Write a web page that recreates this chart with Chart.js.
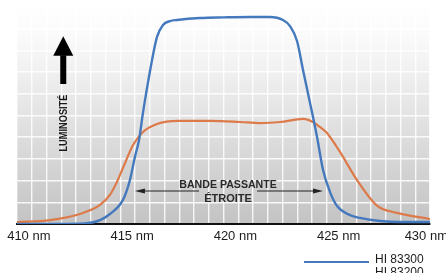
<!DOCTYPE html>
<html><head><meta charset="utf-8">
<script src="https://cdn.jsdelivr.net/npm/chart.js@4/dist/chart.umd.min.js"></script>
<style>html,body{margin:0;padding:0;background:#fff;overflow:hidden}canvas{display:block}</style>
</head><body>
<canvas id="c" width="446" height="273"></canvas>
<script>
// Wavelength (nm) and relative luminosity
const blueNm = [410, 412.08, 413.29, 414.02, 414.5, 415.13, 415.47, 415.71, 415.91, 416.1, 416.34, 416.54, 416.78, 417.07, 417.41, 417.75, 418.86, 420.0, 421.28, 422.25, 422.88, 423.22, 423.56, 423.85, 424.19, 424.53, 424.82, 425.16, 425.5, 426.13, 426.61, 427.58, 428.55, 430];
const blueVal = [0, 0, 0.2, 1.8, 4.6, 11.1, 20.3, 30.9, 38.7, 51.2, 65.0, 75.6, 86.2, 91.7, 93.5, 94.0, 94.9, 95.2, 95.4, 95.4, 94.0, 91.2, 84.3, 71.0, 55.8, 40.1, 24.9, 14.7, 8.3, 4.1, 2.8, 1.4, 0.9, 0.9];
const orangeNm = [410, 411.6, 413.2, 414.02, 414.5, 414.84, 415.13, 415.62, 416.1, 416.78, 417.8, 419.35, 420.8, 421.77, 422.74, 423.85, 424.33, 424.67, 425.01, 425.64, 426.46, 427.43, 428.4, 430];
const orangeVal = [0.9, 1.8, 5.1, 8.8, 13.4, 19.4, 25.8, 36.4, 42.4, 46.1, 47.5, 47.5, 47.0, 46.5, 47.0, 48.4, 47.0, 44.7, 41.9, 33.2, 20.3, 8.5, 5.1, 2.3];
const seriesNames = ['HI 83300', 'HI 83200'];
const xTickValues = [410, 415, 420, 425, 430];
const xTickLabels = ['410 nm', '415 nm', '420 nm', '425 nm', '430 nm'];
const yAxisLabel = 'LUMINOSITÉ';
const bandLabel = ['BANDE PASSANTE', 'ÉTROITE'];

const BLUE = '#4479bd', ORANGE = '#dc7a4a';
const toXY = (xs, ys) => xs.map((x, i) => ({x: x, y: ys[i]}));

const decor = {
  id: 'decor',
  beforeDraw(chart) {
    const {ctx, chartArea: a} = chart;
    const g = ctx.createLinearGradient(0, a.top, 0, a.bottom);
    g.addColorStop(0, '#ffffff');
    g.addColorStop(0.15, '#fbfbfb');
    g.addColorStop(0.55, '#e1e1e1');
    g.addColorStop(1, '#c3c3c3');
    ctx.save();
    ctx.fillStyle = g;
    ctx.fillRect(a.left, a.top, a.right - a.left, a.bottom - a.top);
    ctx.restore();
  },
  afterDraw(chart) {
    const {ctx} = chart;
    const xs = chart.scales.x, ys = chart.scales.y;
    const W = chart.width;
    ctx.save();
    // x tick labels
    ctx.font = '13px "Liberation Sans", Arial, sans-serif';
    ctx.fillStyle = '#1c1c1c';
    ctx.textBaseline = 'alphabetic';
    ctx.textAlign = 'left';
    xTickValues.forEach((v, i) => {
      const lab = xTickLabels[i];
      const numW = ctx.measureText(lab.split(' ')[0]).width;
      const totW = ctx.measureText(lab).width;
      let sx = xs.getPixelForValue(v) - numW / 2 + 1;
      sx = Math.min(sx, W - totW + 2);
      ctx.fillText(lab, sx, 240);
    });
    // y-axis arrow
    const ax = xs.getPixelForValue(412.24);
    const tip = ys.getPixelForValue(86.5), base = ys.getPixelForValue(77.5), sb = ys.getPixelForValue(64.5);
    ctx.fillStyle = '#000';
    ctx.beginPath();
    ctx.moveTo(ax, tip); ctx.lineTo(ax + 10, base); ctx.lineTo(ax - 10, base); ctx.closePath(); ctx.fill();
    ctx.fillRect(ax - 3, base - 0.5, 6, sb - base + 0.5);
    // y label rotated
    ctx.save();
    ctx.translate(ax + 0.5, ys.getPixelForValue(46.5));
    ctx.rotate(-Math.PI / 2);
    ctx.font = 'bold 11px "Liberation Sans", Arial, sans-serif';
    const lw = ctx.measureText(yAxisLabel).width;
    ctx.scale(57 / lw, 1);
    ctx.textAlign = 'center'; ctx.textBaseline = 'middle';
    ctx.fillStyle = '#1a1a1a';
    ctx.fillText(yAxisLabel, 0, 0.5);
    ctx.restore();
    // passband annotation
    const ly = ys.getPixelForValue(15.2);
    const x1 = xs.getPixelForValue(415.71), x2 = xs.getPixelForValue(424.82);
    const cx = xs.getPixelForValue(420.22);
    ctx.strokeStyle = '#222'; ctx.lineWidth = 1.2; ctx.fillStyle = '#222';
    ctx.beginPath();
    ctx.moveTo(x1 + 8, ly); ctx.lineTo(cx - 29, ly);
    ctx.moveTo(cx + 29, ly); ctx.lineTo(x2 - 8, ly);
    ctx.stroke();
    ctx.beginPath(); ctx.moveTo(x1, ly); ctx.lineTo(x1 + 10, ly - 2.5); ctx.lineTo(x1 + 10, ly + 2.5); ctx.closePath(); ctx.fill();
    ctx.beginPath(); ctx.moveTo(x2, ly); ctx.lineTo(x2 - 10, ly - 2.5); ctx.lineTo(x2 - 10, ly + 2.5); ctx.closePath(); ctx.fill();
    ctx.font = 'bold 10.6px "Liberation Sans", Arial, sans-serif';
    ctx.textAlign = 'center'; ctx.textBaseline = 'alphabetic';
    ctx.fillStyle = '#2a2a2a';
    ctx.fillText(bandLabel[0], cx, ly - 3);
    ctx.font = 'bold 11px "Liberation Sans", Arial, sans-serif';
    ctx.fillText(bandLabel[1], cx, ly + 11);
    // legend
    ctx.font = '12px "Liberation Sans", Arial, sans-serif';
    ctx.textAlign = 'left';
    chart.data.datasets.forEach((ds, i) => {
      const yy = 262 + i * 12;
      ctx.strokeStyle = ds.borderColor; ctx.lineWidth = 2.2;
      ctx.beginPath(); ctx.moveTo(304, yy); ctx.lineTo(369, yy); ctx.stroke();
      ctx.fillStyle = '#1c1c1c';
      ctx.fillText(ds.label, 375, yy + 1 + (i ? 1 : 0));
    });
    ctx.restore();
  }
};

new Chart(document.getElementById('c'), {
  type: 'line',
  data: {
    datasets: [
      {label: seriesNames[0], data: toXY(blueNm, blueVal), borderColor: BLUE, borderWidth: 2.4, pointRadius: 0, cubicInterpolationMode: 'monotone', fill: false},
      {label: seriesNames[1], data: toXY(orangeNm, orangeVal), borderColor: ORANGE, borderWidth: 2.2, pointRadius: 0, cubicInterpolationMode: 'monotone', fill: false}
    ]
  },
  options: {
    responsive: false,
    devicePixelRatio: 1,
    animation: false,
    events: [],
    layout: {padding: {left: 17, right: 16, top: 0, bottom: 49}},
    plugins: {legend: {display: false}, tooltip: {enabled: false}},
    scales: {
      x: {
        type: 'linear', min: 410, max: 430,
        ticks: {display: false, stepSize: 20 / 28},
        grid: {color: 'rgba(255,255,255,0.85)', lineWidth: 1.4, drawTicks: false},
        border: {display: true, color: '#111', width: 2}
      },
      y: {
        min: 0, max: 103.2,
        ticks: {display: false, stepSize: 10},
        grid: {color: 'rgba(255,255,255,0.85)', lineWidth: 1.4, drawTicks: false},
        border: {display: false}
      }
    }
  },
  plugins: [decor]
});
</script>
</body></html>
